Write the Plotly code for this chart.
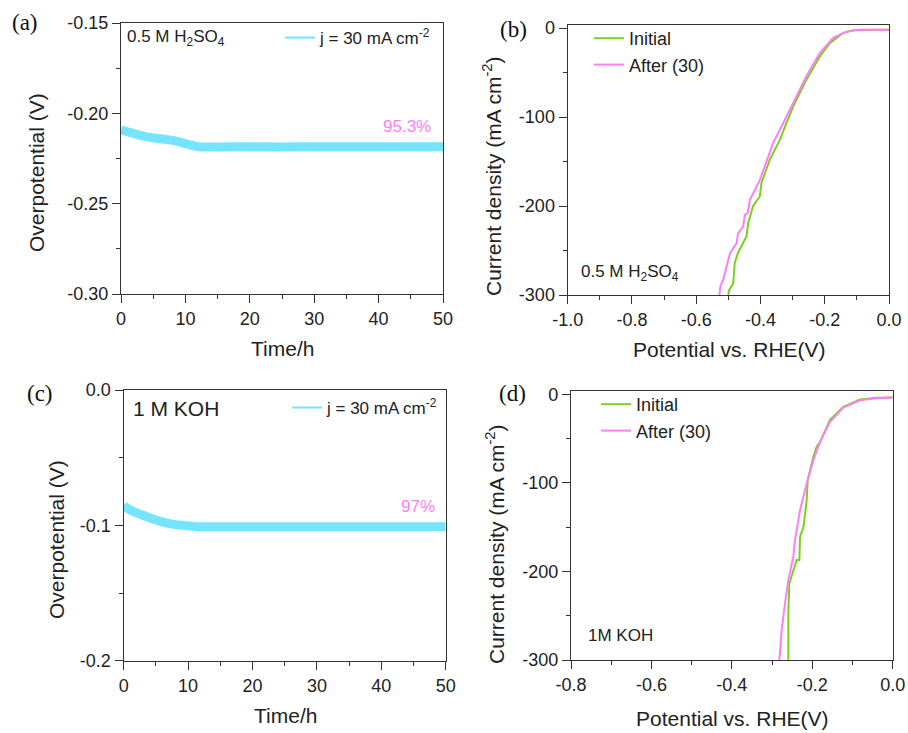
import plotly.graph_objects as go

W, H = 908, 733

# ---------------- data ----------------
# (a) chronopotentiometry, 0.5 M H2SO4
time_a = [0, 1, 2, 3, 4, 5, 6, 7, 8, 9, 10, 11, 12, 15, 20, 25, 30, 35, 40, 45, 50]
eta_a = [-0.2092, -0.2102, -0.2112, -0.2122, -0.2130, -0.2136, -0.2140, -0.2144, -0.2150,
         -0.2158, -0.2168, -0.2177, -0.2185, -0.2186, -0.2185, -0.2186, -0.2185, -0.2185,
         -0.2185, -0.2185, -0.2185]

# (c) chronopotentiometry, 1 M KOH
time_c = [0, 0.5, 1, 2, 3, 4, 5, 6, 7, 8, 9, 10, 11, 12, 15, 20, 25, 30, 35, 40, 45, 50]
eta_c = [-0.0855, -0.0872, -0.0886, -0.0908, -0.0925, -0.0944, -0.0960, -0.0974, -0.0986,
         -0.0995, -0.1000, -0.1004, -0.1008, -0.1010, -0.1010, -0.1010, -0.1010, -0.1010,
         -0.1010, -0.1010, -0.1010, -0.1010]

# (b) LSV, 0.5 M H2SO4
pot_b_init = [-0.5005, -0.497, -0.485, -0.480, -0.4705, -0.4435, -0.438, -0.423, -0.402,
              -0.397, -0.371, -0.340, -0.324, -0.298, -0.257, -0.2155, -0.1845, -0.143,
              -0.112, -0.08, -0.04, 0.0]
j_b_init = [-300, -294, -287, -264, -253, -234, -219, -200, -189, -174, -148, -126, -111,
            -88, -58, -32, -17, -5.6, -2.6, -2.0, -1.9, -1.9]
pot_b_after = [-0.528, -0.524, -0.516, -0.506, -0.495, -0.4746, -0.470, -0.4539, -0.4487,
               -0.440, -0.433, -0.402, -0.3917, -0.3606, -0.3347, -0.2984, -0.257, -0.2155,
               -0.174, -0.1326, -0.091, -0.05, 0.0]
j_b_after = [-300, -289, -283, -268, -253, -242, -231, -223, -210, -208, -193, -171, -161,
             -129, -111, -84, -54, -28, -11, -4, -1.9, -1.9, -1.9]

# (d) LSV, 1 M KOH
pot_d_init = [-0.2595, -0.2595, -0.257, -0.247, -0.2388, -0.232, -0.2305, -0.222, -0.218,
              -0.2139, -0.2114, -0.1973, -0.189, -0.1807, -0.1559, -0.1227, -0.0812,
              -0.0398, 0.0]
j_d_init = [-300, -247, -213.5, -198.5, -187, -187, -161, -150, -131, -119.5, -97, -70.7,
            -59, -54, -29, -14.3, -6, -4, -3.8]
pot_d_after = [-0.2819, -0.276, -0.2678, -0.2595, -0.247, -0.2429, -0.2305, -0.2139,
               -0.1973, -0.1807, -0.1559, -0.1227, -0.0812, -0.0398, 0.0]
j_d_after = [-300, -266, -236, -210, -183, -164.7, -131, -100.8, -74.4, -53.8, -31.2, -15,
             -6.8, -4.5, -3.8]

# tick values / labels
ticks_time = [0, 10, 20, 30, 40, 50]
ticks_time_text = ["0", "10", "20", "30", "40", "50"]
ticks_eta_a = [-0.30, -0.25, -0.20, -0.15]
ticks_eta_a_text = ["-0.30", "-0.25", "-0.20", "-0.15"]
ticks_eta_c = [-0.2, -0.1, 0.0]
ticks_eta_c_text = ["-0.2", "-0.1", "0.0"]
ticks_j = [-300, -200, -100, 0]
ticks_j_text = ["-300", "-200", "-100", "0"]
ticks_pot_b = [-1.0, -0.8, -0.6, -0.4, -0.2, 0.0]
ticks_pot_b_text = ["-1.0", "-0.8", "-0.6", "-0.4", "-0.2", "0.0"]
ticks_pot_d = [-0.8, -0.6, -0.4, -0.2, 0.0]
ticks_pot_d_text = ["-0.8", "-0.6", "-0.4", "-0.2", "0.0"]

CYAN = "#74E4FF"
GREEN = "#7CCF1E"
PINK = "#FF7EF5"
AX = "#333333"
FONT = "Liberation Sans, Arial, sans-serif"
SERIF = "Liberation Serif, Times New Roman, serif"
J_LABEL = "j = 30 mA cm<sup>-2</sup>"


def px(x):
    return x / W


def py(y):
    return 1 - y / H


def dom_x(a, b):
    return [px(a), px(b)]


def dom_y(top, bottom):
    return [py(bottom), py(top)]


fig = go.Figure()

# (a)
fig.add_trace(go.Scatter(x=time_a, y=eta_a, mode="lines", name=J_LABEL, showlegend=False,
                         line=dict(color=CYAN, width=9, shape="spline", smoothing=0.6),
                         xaxis="x", yaxis="y"))
fig.add_trace(go.Scatter(x=[None], y=[None], mode="lines", name=J_LABEL,
                         line=dict(color=CYAN, width=2), xaxis="x", yaxis="y", legend="legend"))
# (b)
fig.add_trace(go.Scatter(x=pot_b_init, y=j_b_init, mode="lines", name="Initial",
                         line=dict(color=GREEN, width=2), xaxis="x2", yaxis="y2", legend="legend2"))
fig.add_trace(go.Scatter(x=pot_b_after, y=j_b_after, mode="lines", name="After (30)",
                         line=dict(color=PINK, width=2), xaxis="x2", yaxis="y2", legend="legend2"))
# (c)
fig.add_trace(go.Scatter(x=time_c, y=eta_c, mode="lines", name=J_LABEL, showlegend=False,
                         line=dict(color=CYAN, width=9, shape="spline", smoothing=0.6),
                         xaxis="x3", yaxis="y3"))
fig.add_trace(go.Scatter(x=[None], y=[None], mode="lines", name=J_LABEL,
                         line=dict(color=CYAN, width=2), xaxis="x3", yaxis="y3", legend="legend3"))
# (d)
fig.add_trace(go.Scatter(x=pot_d_init, y=j_d_init, mode="lines", name="Initial",
                         line=dict(color=GREEN, width=2), xaxis="x4", yaxis="y4", legend="legend4"))
fig.add_trace(go.Scatter(x=pot_d_after, y=j_d_after, mode="lines", name="After (30)",
                         line=dict(color=PINK, width=2), xaxis="x4", yaxis="y4", legend="legend4"))


def axis(domain, rng, tv, tt, minor_dtick, anchor):
    return dict(domain=domain, range=rng, anchor=anchor, tickmode="array", tickvals=tv,
                ticktext=tt, ticks="outside", ticklen=8, tickwidth=1.4, tickcolor=AX,
                showline=True, linecolor=AX, linewidth=1.4, mirror=True, showgrid=False,
                zeroline=False, automargin=False,
                tickfont=dict(family=FONT, size=18, color="#222"),
                minor=dict(ticks="outside", ticklen=4, tickwidth=1.4, tickcolor=AX,
                           dtick=minor_dtick, tick0=rng[0], showgrid=False))


layout = dict(
    width=W, height=H, margin=dict(l=0, r=0, t=0, b=0, autoexpand=False),
    plot_bgcolor="white", paper_bgcolor="white", showlegend=True,
    font=dict(family=FONT, color="#222"),
    xaxis=axis(dom_x(121, 443), [0, 50], ticks_time, ticks_time_text, 5, "y"),
    yaxis=axis(dom_y(23, 294), [-0.30, -0.15], ticks_eta_a, ticks_eta_a_text, 0.025, "x"),
    xaxis2=axis(dom_x(567.7, 889), [-1.0, 0.0], ticks_pot_b, ticks_pot_b_text, 0.1, "y2"),
    yaxis2=axis(dom_y(24.5, 295), [-300, 4], ticks_j, ticks_j_text, 50, "x2"),
    xaxis3=axis(dom_x(123.7, 445.7), [0, 50], ticks_time, ticks_time_text, 5, "y3"),
    yaxis3=axis(dom_y(390, 660.7), [-0.2, 0.0], ticks_eta_c, ticks_eta_c_text, 0.05, "x3"),
    xaxis4=axis(dom_x(571, 892.7), [-0.8, 0.0], ticks_pot_d, ticks_pot_d_text, 0.1, "y4"),
    yaxis4=axis(dom_y(390.7, 660), [-300, 4], ticks_j, ticks_j_text, 50, "x4"),
)

leg17 = dict(bgcolor="rgba(0,0,0,0)", font=dict(family=FONT, size=17, color="#222"),
             xanchor="left", yanchor="top", itemwidth=30, tracegroupgap=0)
leg18 = dict(leg17, font=dict(family=FONT, size=18, color="#222"))
layout["legend"] = dict(x=px(280), y=py(20), **leg17)
layout["legend2"] = dict(x=px(589), y=py(20), **leg18)
layout["legend3"] = dict(x=px(287), y=py(390), **leg17)
layout["legend4"] = dict(x=px(596), y=py(386), **leg18)
fig.update_layout(**layout)


def ann(text, x, y, size, xanchor="center", yanchor="middle", angle=0, color="#222",
        family=FONT, data=None):
    if data is None:
        xx, yy, xr, yr = px(x), py(y), "paper", "paper"
    else:
        xx, yy, xr, yr = x, y, data[0], data[1]
    fig.add_annotation(text=text, x=xx, y=yy, xref=xr, yref=yr, showarrow=False,
                       xanchor=xanchor, yanchor=yanchor, textangle=angle,
                       font=dict(family=family, size=size, color=color))


# panel labels
ann("(a)", 25, 22, 23, family=SERIF, color="#111")
ann("(b)", 513, 30, 23, family=SERIF, color="#111")
ann("(c)", 40, 393, 23, family=SERIF, color="#111")
ann("(d)", 512, 393, 23, family=SERIF, color="#111")

# axis titles
ann("Time/h", 282, 348, 21)
ann("Time/h", 285, 715, 21)
ann("Potential vs. RHE(V)", 729, 350, 21)
ann("Potential vs. RHE(V)", 732, 718, 21)
ann("Overpotential (V)", 36, 173, 21, angle=-90)
ann("Overpotential (V)", 56, 540, 21, angle=-90)
ann("Current density (mA cm<sup>-2</sup>)", 492, 177, 21, angle=-90)
ann("Current density (mA cm<sup>-2</sup>)", 495, 544, 21, angle=-90)

# in-plot labels
ann("0.5 M H<sub>2</sub>SO<sub>4</sub>", 125, 38, 17, xanchor="left")
ann("1 M KOH", 131, 408, 21, xanchor="left")
ann("0.5 M H<sub>2</sub>SO<sub>4</sub>", 579, 273, 17, xanchor="left")
ann("1M KOH", 586, 635, 17, xanchor="left")
ann("95.3%", 44.4, -0.2074, 17, color=PINK, data=("x", "y"))
ann("97%", 45.7, -0.0862, 17, color=PINK, data=("x3", "y3"))

# remove the browser's default 8px body margin so the figure sits at the page origin
fig.write_html("out.html", config={"displayModeBar": False},
               post_script="document.body.style.margin='0';document.body.style.overflow='hidden';")
